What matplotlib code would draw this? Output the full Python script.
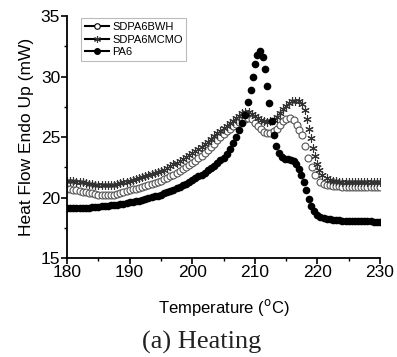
import matplotlib
matplotlib.use("Agg")
import matplotlib.pyplot as plt
from matplotlib.lines import Line2D
from matplotlib.ticker import MultipleLocator

# ---- data ----
pa6_T = [180, 180.5, 181, 181.5, 182, 182.5, 183, 183.5, 184, 184.5, 185, 185.5, 186, 186.5,
         187, 187.5, 188, 188.5, 189, 189.5, 190, 190.5, 191, 191.5, 192, 192.5, 193, 193.5,
         194, 194.5, 195, 195.5, 196, 196.5, 197, 197.5, 198, 198.5, 199, 199.5, 200, 200.5,
         201, 201.5, 202, 202.5, 203, 203.5, 204, 204.5, 205, 205.5, 206, 206.5, 207,
         207.5, 208.0, 208.4, 208.9, 209.4, 209.7, 210.0, 210.4, 210.8, 211.3, 211.6,
         212.0, 212.3, 212.7, 213.1, 213.4, 213.8, 214.3, 214.8, 215.3, 215.8, 216.2,
         216.6, 217.0, 217.4, 217.8, 218.2, 218.6, 219.0, 219.4, 219.9, 220.5, 221, 221.5,
         222, 222.5, 223, 223.5, 224, 224.5, 225, 225.5, 226, 226.5, 227, 227.5, 228,
         228.5, 229, 229.5, 230]
pa6_H = [19.1, 19.11, 19.12, 19.13, 19.15, 19.16, 19.17, 19.18, 19.2, 19.22, 19.25, 19.27,
         19.3, 19.32, 19.35, 19.37, 19.4, 19.45, 19.5, 19.55, 19.6, 19.65, 19.7, 19.75,
         19.8, 19.87, 19.95, 20.02, 20.1, 20.17, 20.25, 20.35, 20.45, 20.55, 20.65, 20.77,
         20.9, 21.02, 21.15, 21.3, 21.45, 21.6, 21.75, 21.9, 22.05, 22.25, 22.45, 22.65,
         22.85, 23.07, 23.3, 23.6, 24.0, 24.5, 25.0,
         25.6, 26.2, 26.8, 27.9, 28.9, 30.0, 31.0, 31.8, 32.1, 31.6, 30.6,
         29.2, 27.8, 26.3, 25.2, 24.3, 23.7, 23.35, 23.2, 23.15, 23.1, 23.0,
         22.8, 22.4, 21.9, 21.3, 20.6, 19.9, 19.3, 18.9, 18.6, 18.4, 18.3, 18.25,
         18.2, 18.17, 18.15, 18.12, 18.1, 18.1, 18.1, 18.07, 18.05, 18.05, 18.05, 18.05, 18.05,
         18.03, 18.0, 18.0, 18.0]

mcmo_T = [180, 180.5, 181, 181.5, 182, 182.5, 183, 183.5, 184, 184.5, 185, 185.5, 186, 186.5,
          187, 187.5, 188, 188.5, 189, 189.5, 190, 190.5, 191, 191.5, 192, 192.5, 193, 193.5,
          194, 194.5, 195, 195.5, 196, 196.5, 197, 197.5, 198, 198.5, 199, 199.5, 200, 200.5,
          201, 201.5, 202, 202.5, 203, 203.5, 204, 204.5, 205, 205.5, 206, 206.5, 207,
          207.5, 208, 208.5, 209, 209.5, 210, 210.5, 211, 211.5, 212, 212.5, 213, 213.5,
          214, 214.5, 215, 215.5, 216, 216.5, 217, 217.5, 218, 218.4, 218.7, 219.0, 219.3,
          219.6, 219.9, 220.3, 220.8, 221.5, 222, 222.5, 223, 223.5, 224, 224.5, 225,
          225.5, 226, 226.5, 227, 227.5, 228, 228.5, 229, 229.5, 230]
mcmo_H = [21.4, 21.38, 21.35, 21.32, 21.3, 21.25, 21.2, 21.15, 21.1, 21.05, 21.0, 21.0,
          21.0, 21.0, 21.0, 21.05, 21.1, 21.17, 21.25, 21.32, 21.4, 21.47, 21.55, 21.62,
          21.7, 21.77, 21.85, 21.92, 22.0, 22.1, 22.2, 22.32, 22.45, 22.6, 22.75, 22.9,
          23.05, 23.2, 23.35, 23.5, 23.65, 23.82, 24.0, 24.2, 24.4, 24.62, 24.85, 25.07,
          25.3, 25.52, 25.75, 25.95, 26.15, 26.35, 26.55,
          26.75, 26.95, 27.1, 27.05, 26.9, 26.75, 26.55, 26.4, 26.3, 26.25, 26.3, 26.45,
          26.7, 27.0, 27.3, 27.6, 27.8, 27.95, 28.0, 27.95, 27.7, 27.2, 26.5, 25.7, 24.9,
          24.1, 23.4, 22.8, 22.3, 21.9, 21.6, 21.45, 21.4, 21.35, 21.32, 21.3, 21.3, 21.3,
          21.3, 21.3, 21.3, 21.3, 21.28, 21.25, 21.28, 21.3, 21.3, 21.3]

bwh_T = [180, 180.5, 181, 181.5, 182, 182.5, 183, 183.5, 184, 184.5, 185, 185.5, 186, 186.5,
         187, 187.5, 188, 188.5, 189, 189.5, 190, 190.5, 191, 191.5, 192, 192.5, 193, 193.5,
         194, 194.5, 195, 195.5, 196, 196.5, 197, 197.5, 198, 198.5, 199, 199.5, 200, 200.5,
         201, 201.5, 202, 202.5, 203, 203.5, 204, 204.5, 205, 205.5, 206, 206.5, 207,
         207.5, 208, 208.5, 208.9, 209.5, 210, 210.5, 211, 211.5, 212, 212.5, 213, 213.5,
         214, 214.5, 215, 215.6, 216.2, 216.7, 217.1, 217.5, 218.0, 218.5, 219.1, 219.6,
         220.4, 221, 221.5, 222, 222.5, 223, 223.5, 224, 224.5, 225, 225.5, 226, 226.5,
         227, 227.5, 228, 228.5, 229, 229.5, 230]
bwh_H = [20.7, 20.68, 20.65, 20.6, 20.55, 20.5, 20.45, 20.4, 20.35, 20.3, 20.25, 20.22,
         20.2, 20.2, 20.2, 20.25, 20.3, 20.37, 20.45, 20.52, 20.6, 20.67, 20.75, 20.82,
         20.9, 20.97, 21.05, 21.12, 21.2, 21.3, 21.4, 21.52, 21.65, 21.77, 21.9, 22.05,
         22.2, 22.35, 22.5, 22.67, 22.85, 23.05, 23.25, 23.47, 23.7, 23.95, 24.2, 24.47,
         24.75, 25.0, 25.25, 25.47, 25.7, 25.9, 26.1,
         26.25, 26.4, 26.5, 26.6, 26.5, 26.2, 25.9, 25.65, 25.45, 25.35, 25.35, 25.5, 25.7,
         26.0, 26.3, 26.5, 26.6, 26.4, 26.0, 25.6, 25.2, 24.3, 23.3, 22.5, 21.9,
         21.3, 21.1, 21.05, 21.0, 20.97, 20.95, 20.92, 20.9, 20.9, 20.9, 20.9, 20.9, 20.9,
         20.9, 20.9, 20.9, 20.9, 20.9, 20.9, 20.9]

series_names = ["SDPA6BWH", "SDPA6MCMO", "PA6"]
x_ticks = [180, 190, 200, 210, 220, 230]
y_ticks = [15, 20, 25, 30, 35]

plt.rcParams['font.family'] = ['Liberation Sans', 'DejaVu Sans']

fig = plt.figure(figsize=(3.97, 3.57), dpi=100)
ax = fig.add_axes([0.169, 0.277, 0.788, 0.678])

asterisk = (6, 2, 0)
ax.plot(bwh_T, bwh_H, linestyle='none', marker='o', ms=5, mfc='white', mec='#555555', mew=0.8)
ax.plot(mcmo_T, mcmo_H, linestyle='none', marker=asterisk, ms=6, mec='#333333', mew=0.8)
ax.plot(pa6_T, pa6_H, linestyle='none', marker='o', ms=5.5, mfc='black', mec='black', mew=0)

ax.set_xlim(180, 230)
ax.set_ylim(15, 35)
ax.set_xticks(x_ticks)
ax.set_yticks(y_ticks)
ax.xaxis.set_minor_locator(MultipleLocator(5))
ax.yaxis.set_minor_locator(MultipleLocator(2.5))
ax.tick_params(which='major', direction='out', length=4, width=1.2, labelsize=12.5, pad=1)
ax.tick_params(which='minor', direction='out', length=2, width=1.0)
for s in ['top', 'right']:
    ax.spines[s].set_visible(False)
for s in ['left', 'bottom']:
    ax.spines[s].set_linewidth(1.3)

ax.set_xlabel("Temperature ($^{\\rm o}$C)", fontsize=12, labelpad=12)
ax.set_ylabel("Heat Flow Endo Up (mW)", fontsize=12.5, labelpad=5)

handles = [
    Line2D([], [], color='black', lw=1.5, marker='o', ms=4, mfc='white', mec='black', mew=0.8),
    Line2D([], [], color='black', lw=1.5, marker=asterisk, ms=5, mec='#333333', mew=0.8),
    Line2D([], [], color='black', lw=1.5, marker='o', ms=4, mfc='black', mec='black'),
]
leg = ax.legend(handles, series_names, loc='upper left', bbox_to_anchor=(0.045, 0.99),
                fontsize=8, frameon=True, fancybox=False, edgecolor='#aaaaaa',
                handlelength=2.2, handletextpad=0.3, borderpad=0.3, labelspacing=0.25,
                borderaxespad=0)
leg.get_frame().set_linewidth(0.8)

fig.text(0.509, 0.042, "(a) Heating", ha='center', va='center', fontsize=19,
         family=['Liberation Serif', 'DejaVu Serif'], color='#222222')

fig.savefig("out.png", dpi=100)
